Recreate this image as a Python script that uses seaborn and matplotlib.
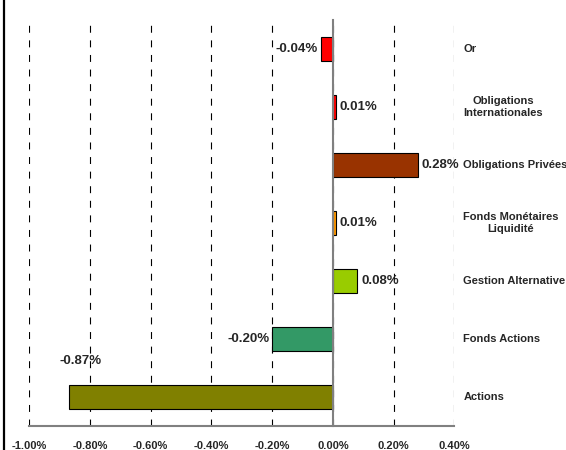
import matplotlib
matplotlib.use("Agg")
import matplotlib.pyplot as plt
from matplotlib.lines import Line2D
from matplotlib.ticker import MultipleLocator, FuncFormatter, FixedLocator
import seaborn as sns
import pandas as pd
import numpy as np

categories = ["Or", "Obligations\nInternationales", "Obligations Privées",
              "Fonds Monétaires\nLiquidité", "Gestion Alternative",
              "Fonds Actions", "Actions"]
values = [-0.04, 0.01, 0.28, 0.01, 0.08, -0.20, -0.87]
colors = ["#FF0000", "#FF0000", "#993300", "#FF9900", "#99CC00", "#339966", "#808000"]

sns.set_style("white")
plt.rcParams["font.family"] = ["Liberation Sans", "DejaVu Sans"]
plt.rcParams["font.weight"] = "bold"
plt.rcParams["lines.scale_dashes"] = False

df = pd.DataFrame({"cat": categories, "val": values})

fig = plt.figure(figsize=(5.66, 4.5), dpi=100)
ax = fig.add_axes([29.3 / 566, 1 - 426 / 450, (454.3 - 29.3) / 566, (426 - 20) / 450])

sns.barplot(data=df, x="val", y="cat", hue="cat", palette=colors, orient="h",
            saturation=1, width=0.42, edgecolor="black", linewidth=0.8,
            legend=False, ax=ax)

ax.set_xlim(-1.0, 0.4)
ax.set_ylim(len(categories) - 0.5, -0.5)
ax.set_xlabel("")
ax.set_ylabel("")

def fmt(v, pos):
    if abs(v) < 1e-9:
        v = 0.0
    return f"{v:.2f}%"

ax.xaxis.set_major_locator(MultipleLocator(0.2))
ax.xaxis.set_major_formatter(FuncFormatter(fmt))
ax.tick_params(axis="x", direction="inout", length=9, width=1.2, color="#808080",
               labelsize=8, pad=6.5)
for lab in ax.get_xticklabels():
    lab.set_fontweight("bold")

# y axis: spine at zero
ax.spines["top"].set_visible(False)
ax.spines["right"].set_visible(False)
ax.spines["left"].set_position(("data", 0))
for s in ("left", "bottom"):
    ax.spines[s].set_color("#808080")
    ax.spines[s].set_linewidth(1.5)
ax.yaxis.set_major_locator(FixedLocator(np.arange(len(categories))))
ax.yaxis.set_minor_locator(FixedLocator(np.arange(len(categories) + 1) - 0.5))
ax.tick_params(axis="y", which="major", direction="out", length=3, width=1, color="#808080",
               labelleft=False)
ax.tick_params(axis="y", which="minor", direction="in", length=4, width=1, color="#808080")

ax.grid(axis="x", color="black", linewidth=0.8, linestyle=(0, (5, 5.5)))
ax.grid(axis="y", visible=False)
ax.set_axisbelow(True)

# value labels
for i, v in enumerate(values):
    txt = f"{v:.2f}%"
    if v < -0.6:
        ax.annotate(txt, xy=(v, i), xytext=(12, 36), textcoords="offset pixels",
                    ha="center", va="center", fontsize=9.5, fontweight="bold")
    elif v < 0:
        ax.annotate(txt, xy=(v, i), xytext=(-3, 0), textcoords="offset pixels",
                    ha="right", va="center", fontsize=9.5, fontweight="bold")
    else:
        ax.annotate(txt, xy=(v, i), xytext=(4, 0), textcoords="offset pixels",
                    ha="left", va="center", fontsize=9.5, fontweight="bold")

# category labels on the right
for i, c in enumerate(categories):
    ax.annotate(c, xy=(1, i), xycoords=("axes fraction", "data"), xytext=(9, 0),
                textcoords="offset pixels", ha="left", va="center",
                multialignment="center", fontsize=8, fontweight="bold",
                annotation_clip=False)

# left frame line
fig.add_artist(Line2D([4 / 566, 4 / 566], [0, 1], color="black", linewidth=1.6))

fig.savefig("out.png", dpi=100)
